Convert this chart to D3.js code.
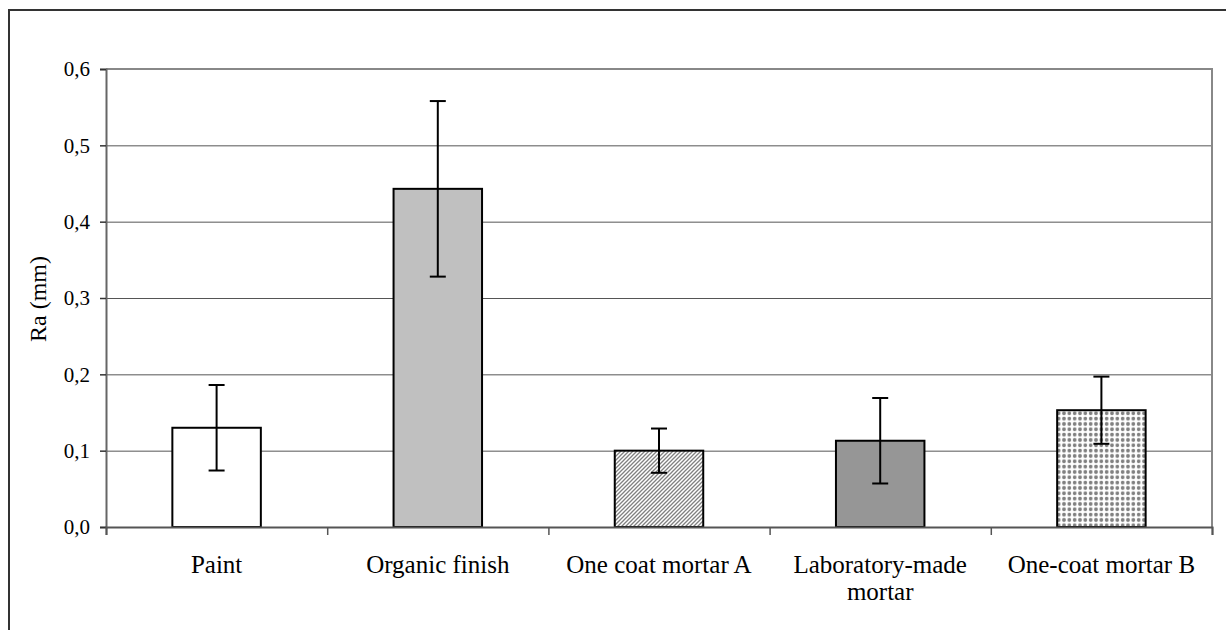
<!DOCTYPE html>
<html>
<head>
<meta charset="utf-8">
<script src="https://cdn.jsdelivr.net/npm/d3@7"></script>
<style>
  html, body { margin: 0; padding: 0; background: #fff; }
  svg { display: block; font-family: "Liberation Serif", "Times New Roman", serif; }
</style>
</head>
<body>
<svg id="chart" width="1226" height="630"></svg>
<script>
// Surface roughness per finish type
const categories = ["Paint", "Organic finish", "One coat mortar A", "Laboratory-made mortar", "One-coat mortar B"];
const labelLines = [["Paint"], ["Organic finish"], ["One coat mortar A"], ["Laboratory-made", "mortar"], ["One-coat mortar B"]];
const values = [0.13, 0.443, 0.10, 0.113, 0.153];
const errors = [0.056, 0.115, 0.029, 0.056, 0.044];
const fills = ["#ffffff", "#c0c0c0", "url(#hatch)", "#969696", "url(#dots)"];
const yTicks = [0, 0.1, 0.2, 0.3, 0.4, 0.5, 0.6];
const yTitle = "Ra (mm)";

const W = 1226, H = 630;
const plot = { left: 106, right: 1212, top: 69, bottom: 527 };
const serif = "Liberation Serif";

const svg = d3.select("#chart");

// fill patterns
const defs = svg.append("defs");
const hatch = defs.append("pattern").attr("id", "hatch")
  .attr("patternUnits", "userSpaceOnUse").attr("width", 4).attr("height", 4);
hatch.append("rect").attr("width", 4).attr("height", 4).attr("fill", "#fff");
hatch.append("path").attr("d", "M-1,1 l2,-2 M0,4 l4,-4 M3,5 l2,-2")
  .attr("stroke", "#808080").attr("stroke-width", 1.3);

const ds = 16 / 3;
const dots = defs.append("pattern").attr("id", "dots")
  .attr("patternUnits", "userSpaceOnUse").attr("width", ds).attr("height", ds);
dots.append("rect").attr("width", ds).attr("height", ds).attr("fill", "#fff");
dots.append("circle").attr("cx", ds / 2).attr("cy", ds / 2).attr("r", 1.9).attr("fill", "#808080");

// outer frame
svg.append("rect").attr("x", 9).attr("y", 10).attr("width", W + 20).attr("height", H + 20)
  .attr("fill", "none").attr("stroke", "#333").attr("stroke-width", 2);

const x = d3.scaleBand().domain(categories).range([plot.left, plot.right])
  .paddingInner(0.6).paddingOuter(0.3);
const xEdge = d3.scaleLinear().domain([0, categories.length]).range([plot.left, plot.right]);
const y = d3.scaleLinear().domain([0, 0.6]).range([plot.bottom, plot.top]);

// gridlines
svg.append("g").attr("transform", `translate(${plot.left},0)`)
  .call(d3.axisLeft(y).tickValues(yTicks.slice(1, -1)).tickSize(-(plot.right - plot.left)).tickFormat(""))
  .call(g => g.select(".domain").remove())
  .call(g => g.selectAll("line").attr("stroke", "#555").attr("stroke-width", 1));

// plot border top/right
svg.append("path")
  .attr("d", `M${plot.left},${plot.top}H${plot.right}V${plot.bottom}`)
  .attr("fill", "none").attr("stroke", "#888").attr("stroke-width", 2);

// bars
svg.append("g").selectAll("rect").data(categories).join("rect")
  .attr("x", d => x(d))
  .attr("y", (d, i) => y(values[i]))
  .attr("width", x.bandwidth())
  .attr("height", (d, i) => y(0) - y(values[i]))
  .attr("fill", (d, i) => fills[i])
  .attr("stroke", "#000").attr("stroke-width", 2);

// error bars
const eb = svg.append("g").attr("stroke", "#000").attr("stroke-width", 2);
categories.forEach((c, i) => {
  const cx = x(c) + x.bandwidth() / 2;
  const hi = y(values[i] + errors[i]), lo = y(values[i] - errors[i]);
  eb.append("line").attr("x1", cx).attr("x2", cx).attr("y1", hi).attr("y2", lo);
  eb.append("line").attr("x1", cx - 8).attr("x2", cx + 8).attr("y1", hi).attr("y2", hi);
  eb.append("line").attr("x1", cx - 8).attr("x2", cx + 8).attr("y1", lo).attr("y2", lo);
});

// y axis
svg.append("g").attr("transform", `translate(${plot.left},0)`)
  .call(d3.axisLeft(y).tickValues(yTicks).tickSize(6).tickPadding(10)
    .tickFormat(d => d3.format(".1f")(d).replace(".", ",")))
  .call(g => g.select(".domain").attr("stroke", "#666").attr("stroke-width", 2))
  .call(g => g.selectAll("line").attr("stroke", "#333").attr("stroke-width", 1.5))
  .call(g => g.selectAll("text").attr("font-family", serif).attr("font-size", 21).attr("fill", "#000"));

// x axis with ticks at category boundaries
svg.append("g").attr("transform", `translate(0,${plot.bottom})`)
  .call(d3.axisBottom(xEdge).tickValues(d3.range(categories.length + 1)).tickSize(8).tickFormat(""))
  .call(g => g.select(".domain").attr("stroke", "#555").attr("stroke-width", 2))
  .call(g => g.selectAll("line").attr("stroke", "#555").attr("stroke-width", 1.5));

// category labels
const lab = svg.append("g").attr("font-family", serif).attr("font-size", 25)
  .attr("fill", "#000").attr("text-anchor", "middle");
categories.forEach((c, i) => {
  const cx = x(c) + x.bandwidth() / 2;
  const t = lab.append("text").attr("x", cx).attr("y", 573);
  labelLines[i].forEach((line, k) => {
    t.append("tspan").attr("x", cx).attr("dy", k === 0 ? 0 : 27).text(line);
  });
});

// y title
svg.append("text")
  .attr("transform", `translate(46,${(plot.top + plot.bottom) / 2 + 1}) rotate(-90)`)
  .attr("text-anchor", "middle").attr("font-family", serif).attr("font-size", 24).attr("fill", "#000")
  .text(yTitle);
</script>
</body>
</html>
